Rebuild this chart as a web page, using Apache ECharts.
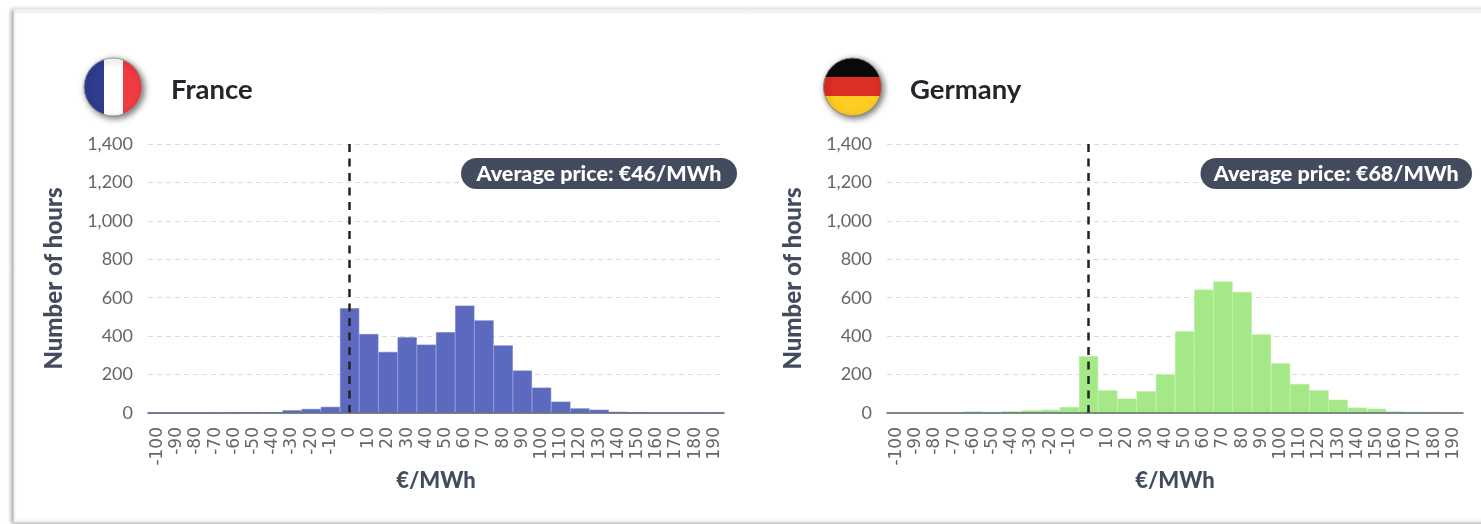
<!DOCTYPE html>
<html><head><meta charset="utf-8">
<style>html,body{margin:0;padding:0;background:#fff}#c{width:1481px;height:524px;filter:blur(0.45px)}</style>
<script src="https://cdn.jsdelivr.net/npm/echarts@6/dist/echarts.min.js"></script>
</head><body><div id="c"></div>
<script>
const categories = ['-100','-90','-80','-70','-60','-50','-40','-30','-20','-10','0','10','20','30','40','50','60','70','80','90','100','110','120','130','140','150','160','170','180','190'];
const franceValues = [0,0,0,1,2,3,3,14,21,32,545,411,318,394,356,420,559,482,352,221,132,59,24,17,6,2,1,1,1,1];
const germanyValues = [0,0,0,1,8,5,9,14,17,31,295,118,75,113,201,425,642,684,630,409,258,151,118,69,28,22,8,6,5,1];
const countries = ['France','Germany'];
const averageLabels = ['Average price: €46/MWh','Average price: €68/MWh'];
const yName = 'Number of hours';
const xName = '€/MWh';

const FONT = 'Lato';
const NAVY = '#434c5e';
const grids = [{left:148,width:576,top:144,height:269},{left:887,width:576,top:144,height:269}];
const opts = {
  animation:false,
  backgroundColor:'#fff',
  title: countries.map((t,i)=>({text:t,left:[166,905][i],top:71,textStyle:{fontFamily:FONT,fontWeight:700,fontSize:27.5,color:'#22252a'}})),
  grid:grids,
  xAxis:[0,1].map(i=>({
    type:'category',gridIndex:i,data:categories,z:5,
    axisTick:{show:false},
    axisLine:{lineStyle:{color:'#5f6776',width:1.5}},
    axisLabel:{interval:0,rotate:90,margin:14,fontFamily:'DejaVu Sans',fontSize:17,color:'#666'},
    name:xName,nameLocation:'middle',nameGap:57,nameMoveOverlap:false,
    nameTextStyle:{fontFamily:FONT,fontWeight:900,fontSize:22,color:NAVY}
  })),
  yAxis:[0,1].map(i=>({
    type:'value',gridIndex:i,min:0,max:1400,interval:200,
    axisLine:{show:false},axisTick:{show:false},
    splitLine:{lineStyle:{type:[5,4],color:'#dcdcdc',width:1}},
    axisLabel:{margin:15,padding:[4,0,0,0],fontFamily:FONT,fontSize:18,color:'#666',formatter:v=>v.toLocaleString('en-US')},
    name:yName,nameLocation:'middle',nameGap:82,
    nameTextStyle:{fontFamily:FONT,fontWeight:900,fontSize:24,color:NAVY}
  })),
  series:[franceValues,germanyValues].map((vals,i)=>({
    type:'bar',xAxisIndex:i,yAxisIndex:i,data:vals,barWidth:'100%',barCategoryGap:0,
    itemStyle:{color:['#5b6abf','#a5e887'][i],borderColor:['#7380cb','#b5ee9b'][i],borderWidth:0.6},
    markLine:{silent:true,symbol:'none',label:{show:false},
      lineStyle:{color:'#222',type:[8,6.5],width:2.5},
      data:[{xAxis:'0'}]}
  })),
  graphic:[
    {type:'rect',z:-10,silent:true,shape:{x:14,y:9,width:1520,height:513},
     style:{fill:'#fff',stroke:'#ececec',lineWidth:1,shadowBlur:4,shadowColor:'rgba(0,0,0,0.35)',shadowOffsetX:-2,shadowOffsetY:1}},
    {type:'circle',z:5,silent:true,shape:{cx:113,cy:87,r:29},
     style:{fill:{type:'linear',x:0,y:0,x2:1,y2:0,colorStops:[
       {offset:0,color:'#2f3d8f'},{offset:0.34,color:'#2f3d8f'},{offset:0.34,color:'#fff'},
       {offset:0.67,color:'#fff'},{offset:0.67,color:'#ef3b42'},{offset:1,color:'#ef3b42'}]},
       stroke:'#999',lineWidth:1,shadowBlur:6,shadowColor:'rgba(0,0,0,0.55)',shadowOffsetX:2,shadowOffsetY:2}},
    {type:'circle',z:5,silent:true,shape:{cx:852.5,cy:87,r:29},
     style:{fill:{type:'linear',x:0,y:0,x2:0,y2:1,colorStops:[
       {offset:0,color:'#0a0a0a'},{offset:0.33,color:'#0a0a0a'},{offset:0.33,color:'#dd2f24'},
       {offset:0.66,color:'#dd2f24'},{offset:0.66,color:'#ffcc22'},{offset:1,color:'#ffcc22'}]},
       stroke:'#888',lineWidth:1,shadowBlur:6,shadowColor:'rgba(0,0,0,0.55)',shadowOffsetX:2,shadowOffsetY:2}},
    ...averageLabels.flatMap((t,i)=>{
      const x=[461,1200.5][i], w=[276,271.5][i];
      return [
        {type:'rect',z:6,silent:true,shape:{x:x,y:158,width:w,height:31,r:15.5},style:{fill:NAVY}},
        {type:'text',z:7,silent:true,style:{text:t,x:x+w/2,y:174,align:'center',verticalAlign:'middle',
          fontFamily:FONT,fontWeight:900,fontSize:21.5,fill:'#fff'}}
      ];
    })
  ]
};
echarts.init(document.getElementById('c')).setOption(opts);
</script></body></html>
